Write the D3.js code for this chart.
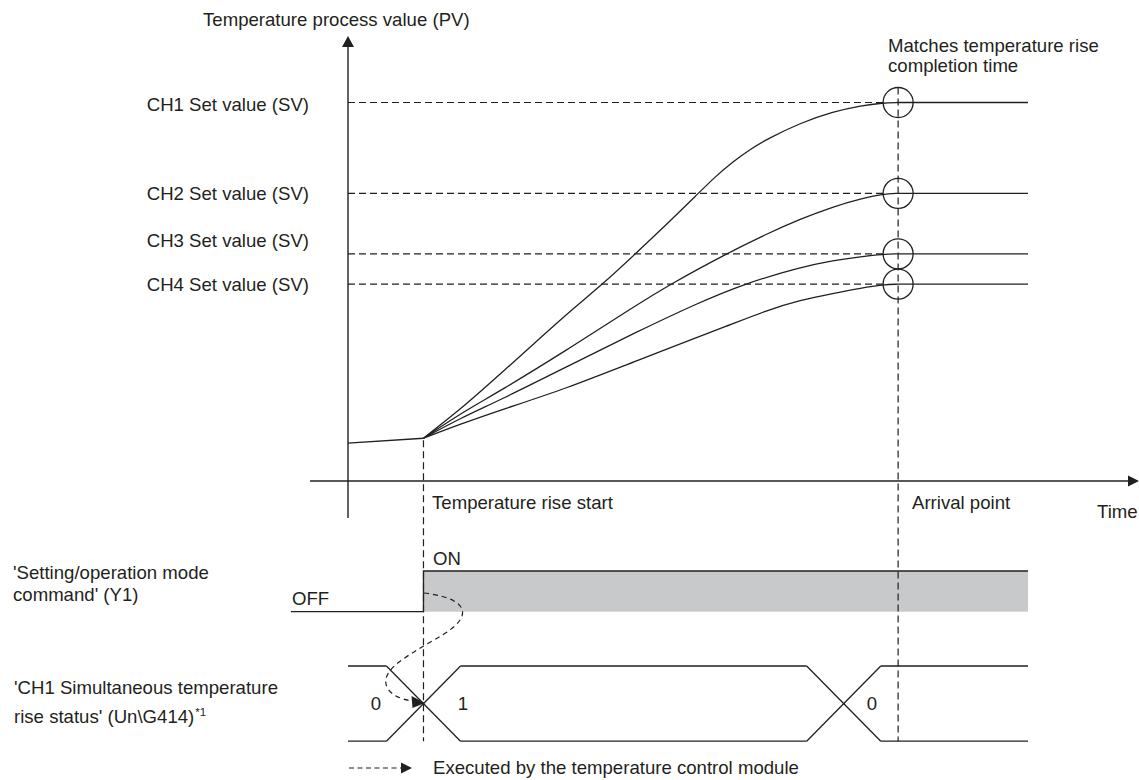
<!DOCTYPE html>
<html><head><meta charset="utf-8">
<script src="https://cdn.jsdelivr.net/npm/d3@7"></script>
<style>
html,body{margin:0;padding:0;background:#fff;}
svg text{font-family:"Liberation Sans",Arial,Helvetica,sans-serif;fill:#231f20;}
</style></head>
<body>
<svg id="chart" width="1139" height="780"></svg>
<script>
// ---------- data ----------
const channels = ["CH1", "CH2", "CH3", "CH4"];
const setValues = [100, 76, 60, 52];               // temperature (relative units)
const preRise = [[0, 10.0], [11.1, 11.3]];          // [time, temperature]
const riseStart = 11.1;                             // time
const arrival = 80.9;                               // time
const timeEnd = 100;
const curveCH1 = [[11.1,11.3],[17.4,20.2],[22.4,28.3],[27.3,36.2],[32.2,44.2],[37.6,52.2],[42.2,59.9],[46.9,67.9],[51.3,75.6],[54.0,80.4],[56.7,84.5],[59.2,87.7],[61.6,90.3],[66.5,94.6],[71.4,97.6],[75.5,99.2],[78.7,99.9]];
const curveCH2 = [[11.1,11.3],[16.5,17.8],[22.4,23.8],[32.2,34.6],[42.0,46.0],[47.4,52.0],[55.5,59.9],[61.6,65.3],[66.5,69.2],[71.4,72.5],[75.5,74.6],[78.7,75.8]];
const curveCH3 = [[11.1,11.3],[16.5,16.6],[22.4,21.4],[32.2,30.2],[42.0,39.0],[51.3,46.9],[58.1,52.0],[66.5,56.5],[71.4,58.3],[75.5,59.3],[78.7,59.9]];
const curveCH4 = [[11.1,11.3],[16.5,15.0],[22.4,18.7],[32.2,24.5],[42.0,31.5],[56.7,41.6],[61.6,45.1],[66.5,47.8],[71.4,49.6],[75.5,51.0],[78.7,51.9]];
const curves = [curveCH1, curveCH2, curveCH3, curveCH4];
const svLabels = channels.map(c => c + " Set value (SV)");

// timing signals
const y1States = ["OFF", "ON"];
const y1Switch = [[-8.4, 0], [riseStart, 1], [timeEnd, 1]];   // [time, state]
const busValues = ["0", "1", "0"];
const busTransitions = [riseStart, 72.9];          // time of crossing
const busStart = 0;

// texts
const yTitle = "Temperature process value (PV)";
const xTitle = "Time";
const annotation = ["Matches temperature rise", "completion time"];
const markerLabels = ["Temperature rise start", "Arrival point"];
const signalNames = [["'Setting/operation mode", "command' (Y1)"], ["'CH1 Simultaneous temperature", "rise status' (Un\\G414)"]];
const footnoteMark = "*1";
const legendText = "Executed by the temperature control module";

// ---------- layout ----------
const INK = "#231f20", FS = 18.6;
const svg = d3.select("#chart");
const x = d3.scaleLinear().domain([0, 100]).range([348, 1028]);
const y = d3.scaleLinear().domain([0, 100]).range([481, 102.5]);
const R = 15;
const DASH = "7,4";

function tri(cx, cy, dir, w, h) {
  if (dir === "up") return `M${cx},${cy} L${cx - w/2},${cy + h} L${cx + w/2},${cy + h} Z`;
  return `M${cx},${cy} L${cx - h},${cy - w/2} L${cx - h},${cy + w/2} Z`;
}

// axes
svg.append("line").attr("x1", x(0)).attr("x2", x(0)).attr("y1", 518).attr("y2", 45)
  .attr("stroke", INK).attr("stroke-width", 1.4);
svg.append("path").attr("d", tri(x(0), 36, "up", 12, 11)).attr("fill", INK);
svg.append("line").attr("x1", 310).attr("x2", 1130).attr("y1", y(0)).attr("y2", y(0))
  .attr("stroke", INK).attr("stroke-width", 1.4);
svg.append("path").attr("d", tri(1139, y(0), "right", 11, 11)).attr("fill", INK);

svg.append("text").attr("x", 203).attr("y", 26).attr("font-size", FS).text(yTitle);
svg.append("text").attr("x", 1097).attr("y", 518).attr("font-size", FS).text(xTitle);

// SV dashed lines, labels, flat lines
const labelDy = [8, 7, -7, 7];
setValues.forEach((sv, i) => {
  svg.append("line").attr("x1", x(0)).attr("x2", x(arrival) - R).attr("y1", y(sv)).attr("y2", y(sv))
    .attr("stroke", INK).attr("stroke-width", 1.2).attr("stroke-dasharray", DASH);
  svg.append("text").attr("x", 309).attr("y", y(sv) + labelDy[i]).attr("text-anchor", "end")
    .attr("font-size", FS).text(svLabels[i]);
  svg.append("line").attr("x1", x(arrival)).attr("x2", x(timeEnd)).attr("y1", y(sv)).attr("y2", y(sv))
    .attr("stroke", INK).attr("stroke-width", 1.3);
});

// curves
const lineStraight = d3.line().x(d => x(d[0])).y(d => y(d[1]));
const line = d3.line().x(d => x(d[0])).y(d => y(d[1])).curve(d3.curveBasis);
svg.append("path").attr("d", lineStraight(preRise)).attr("fill", "none").attr("stroke", INK).attr("stroke-width", 1.3);
curves.forEach((c, i) => {
  const pts = c.concat([[arrival, setValues[i]]]);
  svg.append("path").attr("d", line(pts)).attr("fill", "none").attr("stroke", INK).attr("stroke-width", 1.3);
});

// circles
setValues.forEach(sv => {
  svg.append("circle").attr("cx", x(arrival)).attr("cy", y(sv)).attr("r", R)
    .attr("fill", "none").attr("stroke", INK).attr("stroke-width", 1.3);
});

// annotation
annotation.forEach((t, i) => svg.append("text").attr("x", 888).attr("y", 52 + i * 20).attr("font-size", FS).text(t));

// Y1 signal
const yOff = 611.7, yOn = 571;
svg.append("rect").attr("x", x(riseStart)).attr("y", yOn).attr("width", x(timeEnd) - x(riseStart)).attr("height", yOff - yOn)
  .attr("fill", "#c8c9cb");
const stepLine = d3.line().x(d => x(d[0])).y(d => d[1] ? yOn : yOff).curve(d3.curveStepAfter);
svg.append("path").attr("d", stepLine(y1Switch)).attr("fill", "none").attr("stroke", INK).attr("stroke-width", 1.3);
svg.append("text").attr("x", 292).attr("y", 605).attr("font-size", FS).text(y1States[0]);
svg.append("text").attr("x", 433).attr("y", 565).attr("font-size", FS).text(y1States[1]);

// bus signal
const bTop = 666, bBot = 741.2, hw = 5.45; // hw in time units
const bx = [busStart, ...busTransitions, timeEnd];
busTransitions.forEach(t => {
  svg.append("line").attr("x1", x(t - hw)).attr("y1", bTop).attr("x2", x(t + hw)).attr("y2", bBot).attr("stroke", INK).attr("stroke-width", 1.3);
  svg.append("line").attr("x1", x(t - hw)).attr("y1", bBot).attr("x2", x(t + hw)).attr("y2", bTop).attr("stroke", INK).attr("stroke-width", 1.3);
});
for (let k = 0; k < bx.length - 1; k++) {
  const a = k === 0 ? bx[k] : bx[k] + hw;
  const b = k === bx.length - 2 ? bx[k + 1] : bx[k + 1] - hw;
  [bTop, bBot].forEach(yy => svg.append("line").attr("x1", x(a)).attr("x2", x(b)).attr("y1", yy).attr("y2", yy)
    .attr("stroke", INK).attr("stroke-width", 1.3));
}
const busLabelX = [376, 463, 872];
busValues.forEach((v, i) => svg.append("text").attr("x", busLabelX[i]).attr("y", 710).attr("text-anchor", "middle").attr("font-size", FS).text(v));

// vertical dashed markers
svg.append("line").attr("x1", x(riseStart)).attr("x2", x(riseStart)).attr("y1", y(preRise[1][1]) + 2).attr("y2", bBot)
  .attr("stroke", INK).attr("stroke-width", 1.2).attr("stroke-dasharray", DASH);
svg.append("line").attr("x1", x(arrival)).attr("x2", x(arrival)).attr("y1", y(setValues[0]) - R).attr("y2", bBot)
  .attr("stroke", INK).attr("stroke-width", 1.2).attr("stroke-dasharray", DASH);
svg.append("text").attr("x", 432).attr("y", 509).attr("font-size", FS).text(markerLabels[0]);
svg.append("text").attr("x", 912).attr("y", 509).attr("font-size", FS).text(markerLabels[1]);

// signal names
signalNames[0].forEach((t, i) => svg.append("text").attr("x", 13).attr("y", 579 + i * 22).attr("font-size", FS).text(t));
signalNames[1].forEach((t, i) => svg.append("text").attr("x", 14).attr("y", 694 + i * 29).attr("font-size", FS).text(t));
{
  const tw = svg.append("text").attr("x", 14).attr("y", 723).attr("font-size", FS).text(signalNames[1][1]).attr("opacity", 0);
  const w = tw.node().getComputedTextLength(); tw.remove();
  svg.append("text").attr("x", 14 + w + 1).attr("y", 716).attr("font-size", 11.5).text(footnoteMark);
}

// curved dashed arrow (executed by module)
svg.append("path")
  .attr("d", "M424,593 C450,596 466,604 462,616 C457,630 432,640 414,652 C394,664 380,676 388,689 C393,696 401,699 412,701")
  .attr("fill", "none").attr("stroke", INK).attr("stroke-width", 1.2).attr("stroke-dasharray", "5,4");
svg.append("path").attr("d", "M425,703 L411.5,696 L412.5,708 Z").attr("fill", INK);

// legend
svg.append("line").attr("x1", 349).attr("x2", 401).attr("y1", 768).attr("y2", 768)
  .attr("stroke", INK).attr("stroke-width", 1.2).attr("stroke-dasharray", "5,3.5");
svg.append("path").attr("d", tri(412, 768, "right", 11, 11)).attr("fill", INK);
svg.append("text").attr("x", 433).attr("y", 774).attr("font-size", FS).text(legendText);
</script>
</body></html>
